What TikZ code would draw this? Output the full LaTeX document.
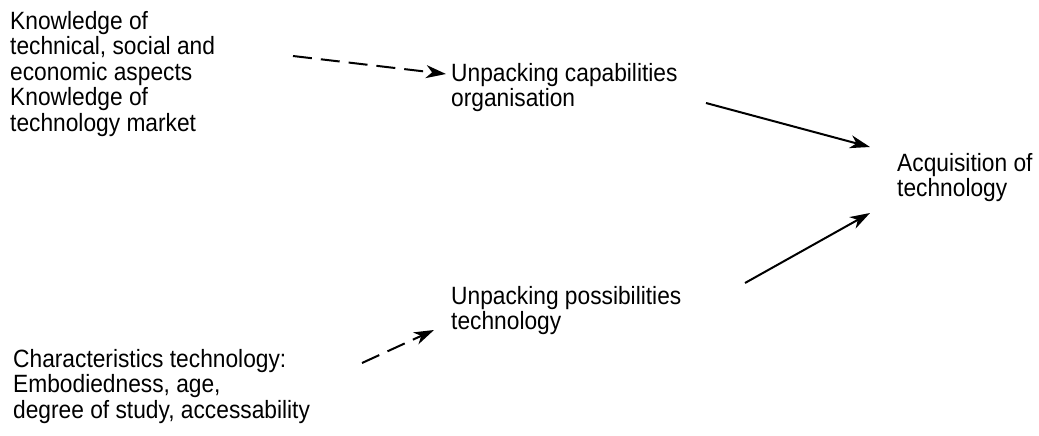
\documentclass[tikz,border=0pt]{standalone}
\usepackage{fontspec}
\setmainfont{Liberation Sans}[FakeStretch=0.91]
\usetikzlibrary{arrows.meta}
\newcommand{\firstline}{\rule{0pt}{20pt}}
\begin{document}
\begin{tikzpicture}[x=1pt,y=-1pt,
  lbl/.style={anchor=north west,inner sep=0pt,align=left,font=\fontsize{25}{25.5}\selectfont},
  conn/.style={line width=2pt,-{Stealth[length=20pt,width=13pt,inset=6pt]}},
  dconn/.style={conn,dash pattern=on 19pt off 9pt}]
\useasboundingbox (0,0) rectangle (1039,436);
% positions: first baseline minus 20
\node[lbl] (know) at (10,9) {\firstline Knowledge of\\technical, social and\\economic aspects\\Knowledge of\\technology market};
\node[lbl] (cap) at (451,61) {\firstline Unpacking capabilities\\organisation};
\node[lbl] (acq) at (897,151) {\firstline Acquisition of\\technology};
\node[lbl] (pos) at (451,284) {\firstline Unpacking possibilities\\technology};
\node[lbl] (char) at (13,347) {\firstline Characteristics technology:\\Embodiedness, age,\\degree of study, accessability};
\coordinate (k1) at (293,56);
\coordinate (k2) at (446,74);
\coordinate (c1) at (362,363);
\coordinate (c2) at (434,330);
\coordinate (u1) at (706,103);
\coordinate (u2) at (870,147);
\coordinate (p1) at (745,283);
\coordinate (p2) at (870,213);
\draw[dconn] (k1) -- (k2);
\draw[dconn] (c1) -- (c2);
\draw[conn] (u1) -- (u2);
\draw[conn] (p1) -- (p2);
\end{tikzpicture}
\end{document}
